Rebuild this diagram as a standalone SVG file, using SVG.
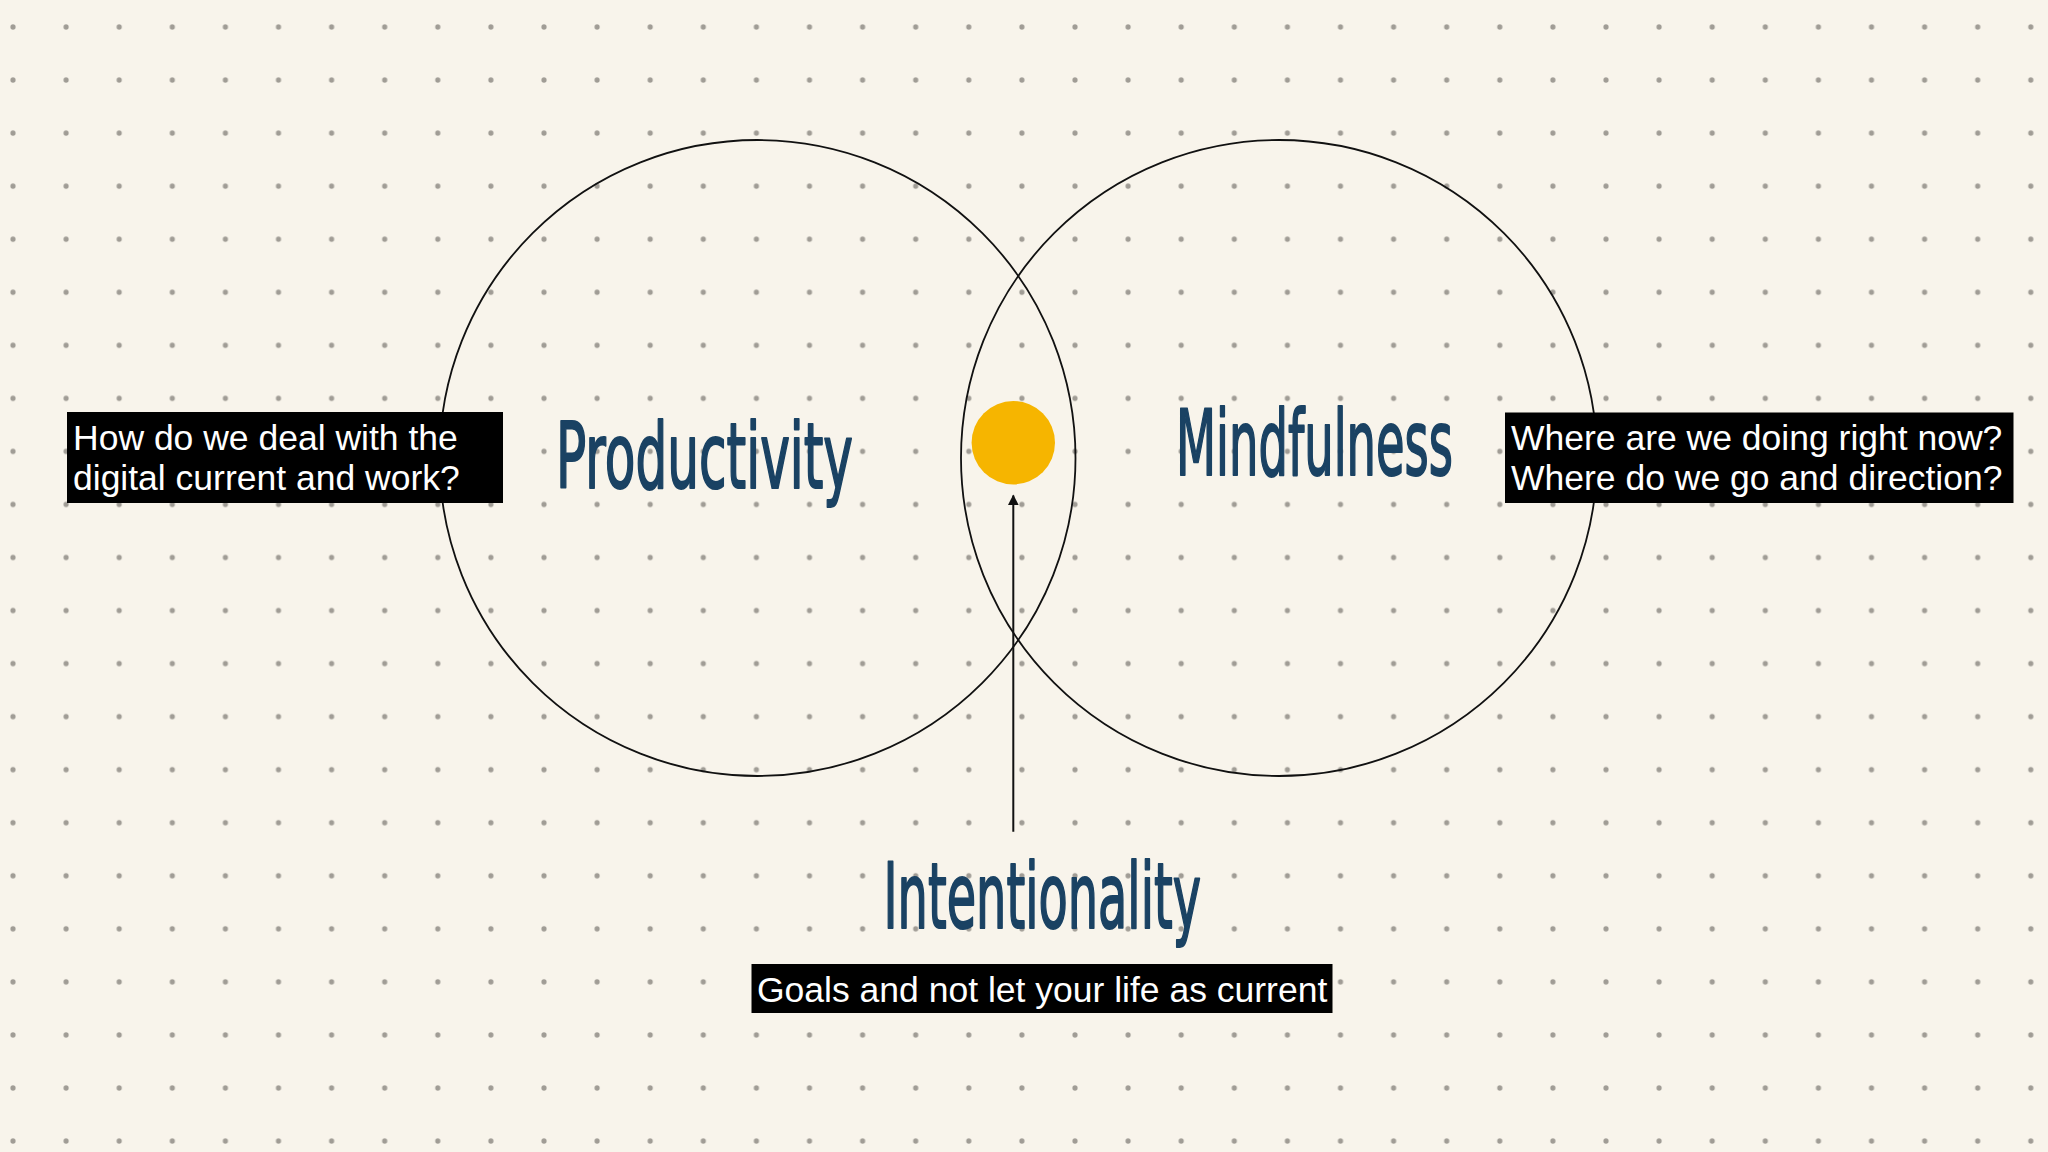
<svg xmlns="http://www.w3.org/2000/svg" width="2048" height="1152" viewBox="0 0 2048 1152">
  <style>
    .ring { fill: none; stroke: #111; stroke-width: 1.8; }
    .hand { font-family: "DejaVu Sans", "Liberation Sans", sans-serif; fill: #1a4263; stroke: #1a4263; stroke-width: 2.2; stroke-linejoin: round; font-size: 90px; }
    .box { fill: #000; }
    .cap { font-family: "Liberation Sans", Arial, sans-serif; font-size: 35.5px; fill: #fff; }
    .conn { stroke: #111; stroke-width: 2; fill: none; }
  </style>
  <defs>
    <pattern id="dots" x="13" y="27" width="53.1" height="53.05" patternUnits="userSpaceOnUse">
      <circle cx="0" cy="0" r="2.6" fill="#8a8680" fill-opacity="0.8"/>
      <circle cx="53.1" cy="0" r="2.6" fill="#8a8680" fill-opacity="0.8"/>
      <circle cx="0" cy="53.05" r="2.6" fill="#8a8680" fill-opacity="0.8"/>
      <circle cx="53.1" cy="53.05" r="2.6" fill="#8a8680" fill-opacity="0.8"/>
    </pattern>
    <marker id="arrow" viewBox="0 0 10 10" refX="9" refY="5" markerWidth="5.5" markerHeight="5.5" orient="auto-start-reverse" markerUnits="strokeWidth">
      <path d="M0,0 L10,5 L0,10 Z" fill="#111"/>
    </marker>
  </defs>

  <rect width="2048" height="1152" fill="#f8f4eb"/>
  <rect width="2048" height="1152" fill="url(#dots)"/>

  <g id="node-productivity">
    <circle class="ring" cx="757.5" cy="458" r="318"/>
    <text class="hand" x="556" y="488" textLength="297" lengthAdjust="spacingAndGlyphs">Productivity</text>
  </g>

  <g id="node-mindfulness">
    <circle class="ring" cx="1279" cy="458" r="318"/>
    <text class="hand" x="1176" y="475" textLength="277" lengthAdjust="spacingAndGlyphs">Mindfulness</text>
  </g>

  <g id="node-center">
    <circle cx="1013.3" cy="442.7" r="41.7" fill="#f6b500"/>
  </g>

  <g id="node-intentionality">
    <text class="hand" x="883.5" y="928" textLength="317.5" lengthAdjust="spacingAndGlyphs">Intentionality</text>
  </g>

  <g id="note-productivity">
    <rect class="box" x="67" y="412" width="436" height="91"/>
    <text class="cap" x="73" y="449.5">How do we deal with the</text>
    <text class="cap" x="73" y="490">digital current and work?</text>
  </g>

  <g id="note-mindfulness">
    <rect class="box" x="1505" y="412.5" width="508.5" height="90.5"/>
    <text class="cap" x="1511" y="449.5">Where are we doing right now?</text>
    <text class="cap" x="1511" y="490">Where do we go and direction?</text>
  </g>

  <g id="note-intentionality">
    <rect class="box" x="751.5" y="964" width="581" height="49"/>
    <text class="cap" x="757" y="1001.5">Goals and not let your life as current</text>
  </g>

  <g id="connectors">
    <line class="conn" x1="1013.3" y1="831.7" x2="1013.3" y2="495.5" marker-end="url(#arrow)"/>
  </g>
</svg>
